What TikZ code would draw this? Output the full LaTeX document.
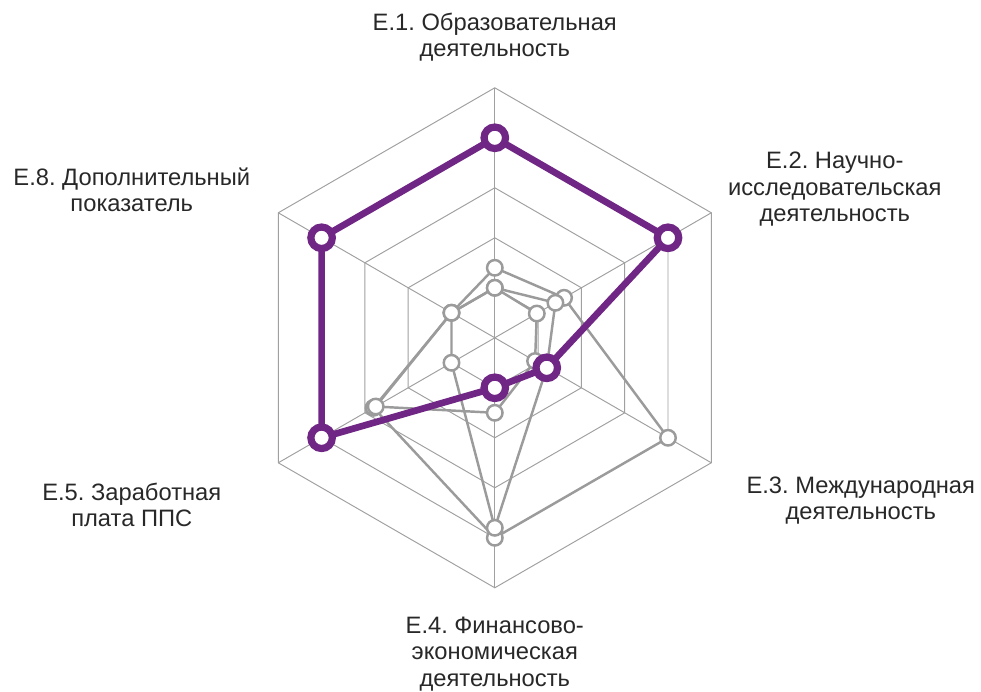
\documentclass[tikz,border=0pt]{standalone}
\usepackage{fontspec}
\setmainfont{Liberation Sans}
\usetikzlibrary{positioning}
\definecolor{vuzpurple}{RGB}{112,38,132}
\definecolor{gridgray}{RGB}{160,160,160}
\definecolor{sergray}{RGB}{155,155,155}
\definecolor{labtext}{RGB}{40,40,40}
\pgfdeclarelayer{grid}
\pgfdeclarelayer{lines}
\pgfdeclarelayer{topline}
\pgfdeclarelayer{top}
\pgfsetlayers{grid,lines,main,topline,top}
\frenchspacing

\begin{document}
\begin{tikzpicture}[
		font=\fontsize{13.5}{15}\selectfont,
		gridline/.style={draw=gridgray, line width=0.55pt},
		ser/.style={draw=sergray, line width=1.4pt, line join=round},
		gmark/.style={circle, draw=sergray, fill=white, line width=1.4pt, minimum size=3.1mm, inner sep=0pt},
		pline/.style={draw=vuzpurple, line width=3.8pt, line join=round},
		pmark/.style={circle, draw=vuzpurple, fill=white, line width=4.1pt, minimum size=4.3mm, inner sep=0pt},
		lab/.style={align=center, text=labtext}
	]
	\useasboundingbox (-9.896,-7.084) rectangle (9.724,6.756);

	% grid
	\begin{pgfonlayer}{grid}
		\foreach \r in {1,...,5}
			\draw[gridline] (90:\r) -- (30:\r) -- (-30:\r) -- (-90:\r) -- (-150:\r) -- (150:\r) -- cycle;
		\foreach \a in {90,30,-30}
			\draw[gridline] (\a:5) -- (\a+180:5);
	\end{pgfonlayer}

	% gray series
	\foreach \v [count=\i] in {1.4,1.6,4.0,4.0,2.8,1.0}
		\node[gmark] (b-\i) at ({150-60*\i}:\v) {};
	\foreach \v [count=\i] in {1.0,1.4,1.2,3.8,1.0,1.0}
		\node[gmark] (c-\i) at ({150-60*\i}:\v) {};
	\foreach \v [count=\i] in {1.0,0.97,0.93,1.5,2.75,1.0}
		\node[gmark] (d-\i) at ({150-60*\i}:\v) {};

	\begin{pgfonlayer}{lines}
		\draw[ser] (b-1.center) -- (b-2.center) -- (b-3.center) -- (b-4.center) -- (b-5.center) -- (b-6.center) -- cycle;
		\draw[ser] (c-1.center) -- (c-2.center) -- (c-3.center) -- (c-4.center) -- (c-5.center) -- (c-6.center) -- cycle;
		\draw[ser] (d-1.center) -- (d-2.center) -- (d-3.center) -- (d-4.center) -- (d-5.center) -- (d-6.center) -- cycle;
	\end{pgfonlayer}

	% purple series
	\begin{pgfonlayer}{top}
		\foreach \v [count=\i] in {4.0,4.0,1.2,1.0,4.0,4.0}
			\node[pmark] (p-\i) at ({150-60*\i}:\v) {};
	\end{pgfonlayer}
	\begin{pgfonlayer}{topline}
		\draw[pline] (p-1.center) -- (p-2.center) -- (p-3.center) -- (p-4.center) -- (p-5.center) -- (p-6.center) -- cycle;
	\end{pgfonlayer}

	% axis labels
	\node[lab] (lab-e1) at (0,6.01) {E.1. Образовательная\\деятельность};
	\node[lab] (lab-e2) at (6.8,2.97) {E.2. Научно-\\исследовательская\\деятельность};
	\node[lab] (lab-e3) at (7.32,-3.26) {E.3. Международная\\деятельность};
	\node[lab] (lab-e4) at (0,-6.32) {E.4. Финансово-\\экономическая\\деятельность};
	\node[lab] (lab-e5) at (-7.26,-3.34) {E.5. Заработная\\плата ППС};
	\node[lab] (lab-e8) at (-7.26,2.96) {E.8. Дополнительный\\показатель};
\end{tikzpicture}
\end{document}
